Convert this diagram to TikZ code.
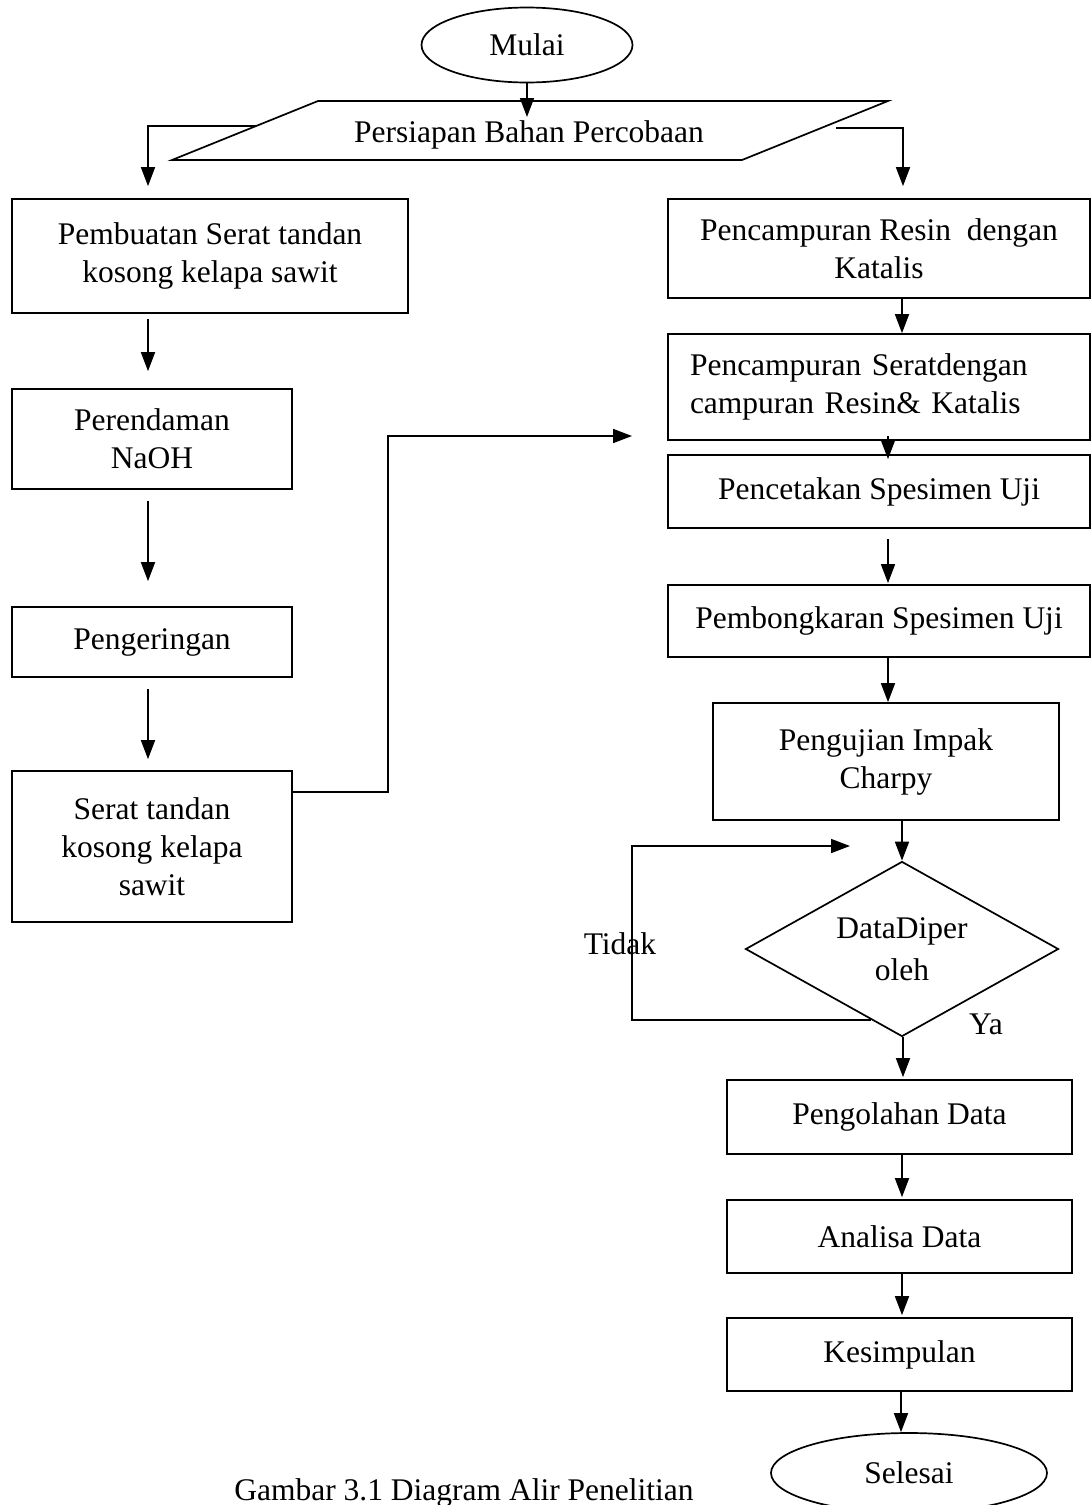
\documentclass[tikz,border=0pt]{standalone}
\usepackage{fontspec}
\setmainfont{Liberation Serif}
\usetikzlibrary{shapes.geometric,arrows.meta,calc}
\begin{document}
\begin{tikzpicture}[x=1pt,y=-1pt,
  line width=1.7pt,
  every node/.style={font=\fontsize{31.5}{38}\selectfont},
  box/.style={draw, rectangle, align=center, inner sep=0pt},
  oval/.style={draw, ellipse, inner sep=0pt},
  arr/.style={-{Triangle[length=19pt,width=14pt]}}]
\clip (0,0) rectangle (1092,1505);
\fill[white] (0,0) rectangle (1092,1505);

% start
\node[oval, minimum width=211pt, minimum height=75pt] (mulai) at (527,45) {Mulai};

% input parallelogram
\coordinate (pA) at (318,101);
\coordinate (pB) at (888,101);
\coordinate (pC) at (742,160);
\coordinate (pD) at (172,160);
\draw (pA) -- (pB) -- (pC) -- (pD) -- cycle;
\node (prep) at (529,135) {Persiapan Bahan Percobaan};
\coordinate (prepin) at (527,117);
\coordinate (pl) at (256,126);
\coordinate (pr) at (836,128);

% left column
\node[box, minimum width=396pt, minimum height=114pt] (b1) at (210,256) {Pembuatan Serat tandan\\kosong kelapa sawit};
\node[box, minimum width=280pt, minimum height=100pt] (b2) at (152,439) {Perendaman\\NaOH};
\node[box, minimum width=280pt, minimum height=70pt] (b3) at (152,642) {Pengeringan};
\node[box, minimum width=280pt, minimum height=151pt] (b4) at (152,846.5) {Serat tandan\\kosong kelapa\\sawit};

% right column
\node[box, minimum width=422pt, minimum height=99pt] (r1) at (879,248.5) {Pencampuran Resin\ \ dengan\\Katalis};
\node[box, minimum width=422pt, minimum height=106pt, text width=378pt, inner xsep=22pt, align=left] (r2) at (879,387) {Pencampuran Seratdengan\\campuran Resin\& Katalis};
\node[box, minimum width=422pt, minimum height=73pt] (r3) at (879,491.5) {Pencetakan Spesimen Uji};
\node[box, minimum width=422pt, minimum height=72pt] (r4) at (879,621) {Pembongkaran Spesimen Uji};
\node[box, minimum width=346pt, minimum height=117pt] (r5) at (886,761.5) {Pengujian Impak\\Charpy};
\node[draw, diamond, aspect=1.79, minimum width=313pt, minimum height=175pt, inner sep=0pt, align=center, font=\fontsize{31.5}{42}\selectfont] (dia) at (902,949) {DataDiper\\oleh};
\node (tidak) at (620,944) {Tidak};
\node (ya) at (986,1024) {Ya};
\node[box, minimum width=345pt, minimum height=74pt] (p1) at (899.5,1117) {Pengolahan Data};
\node[box, minimum width=345pt, minimum height=73pt] (p2) at (899.5,1236.5) {Analisa Data};
\node[box, minimum width=345pt, minimum height=73pt] (p3) at (899.5,1354.5) {Kesimpulan};
\node[oval, minimum width=276pt, minimum height=80pt] (selesai) at (909,1473) {Selesai};
\node (cap) at (464,1493) {Gambar 3.1 Diagram Alir Penelitian};

% connectors: top
\draw[arr] (mulai.south) -- (prepin);
\draw[arr, shorten >=12pt] (pl) -| ([xshift=-62pt]b1.north);
\draw[arr, shorten >=12pt] (pr) -| ([xshift=24pt]r1.north);

% left column connectors
\draw[arr, shorten <=5pt, shorten >=17pt] ([xshift=-62pt]b1.south) -- ([xshift=-4pt]b2.north);
\draw[arr, shorten <=11pt, shorten >=25pt] ([xshift=-4pt]b2.south) -- ([xshift=-4pt]b3.north);
\draw[arr, shorten <=11pt, shorten >=11pt] ([xshift=-4pt]b3.south) -- ([xshift=-4pt]b4.north);

% cross connector
\coordinate (b4out) at ([yshift=-22pt]b4.north east);
\coordinate (r2in) at (632,436);
\draw[arr] (b4out) -| (388,436) -- (r2in);

% right column connectors
\draw[arr] ([xshift=23pt]r1.south) -- ([xshift=23pt]r2.north);
\draw[arr] ([xshift=9pt,yshift=5pt]r2.south) -- ([xshift=9pt,yshift=-5pt]r3.north);
\draw[arr, shorten <=10pt, shorten >=1pt] ([xshift=9pt]r3.south) -- ([xshift=9pt]r4.north);
\draw[arr] ([xshift=9pt]r4.south) -- ([xshift=2pt]r5.north);
\draw[arr] (dia.north |- r5.south) -- (dia.north);

% loop back
\coordinate (loopin) at (850,846);
\draw[arr] ($(dia.west)!0.8!(dia.south)$) -| (632,846) -- (loopin);

% lower connectors
\draw[arr, shorten >=2pt] ([xshift=1pt]dia.south) -- ([xshift=1pt]dia.south |- p1.north);
\draw[arr, shorten >=2pt] (p1.south -| dia.south) -- (p2.north -| dia.south);
\draw[arr, shorten >=2pt] (p2.south -| dia.south) -- (p3.north -| dia.south);
\draw[arr] ([xshift=1.5pt]p3.south) -- ([xshift=-8pt]selesai.north);
\end{tikzpicture}
\end{document}
